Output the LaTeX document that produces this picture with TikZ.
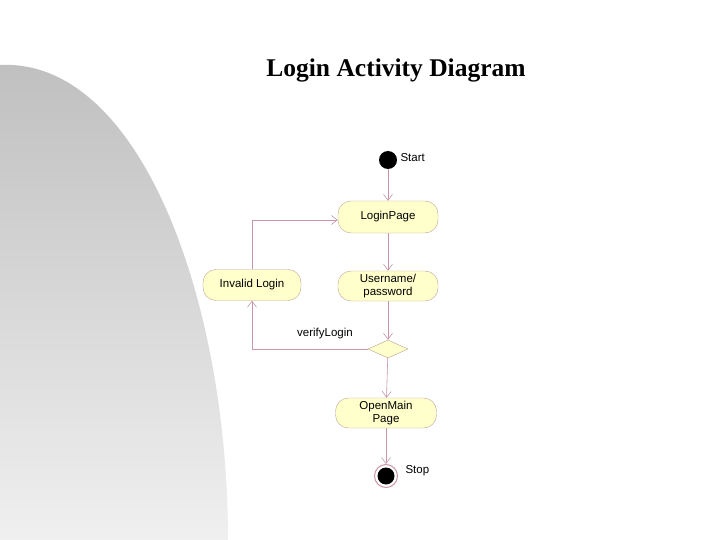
\documentclass[tikz,border=0pt]{standalone}
\usepackage{fontspec}
\setmainfont{Liberation Sans}
\newfontfamily\titlefont{Liberation Serif}
\usetikzlibrary{shapes.geometric,arrows.meta}
\definecolor{lineC}{RGB}{200,150,170}
\definecolor{fillC}{RGB}{255,255,204}
\definecolor{edgeC}{RGB}{190,160,150}
\tikzset{
 act/.style={draw=edgeC,fill=fillC,rounded corners=13pt,minimum width=100pt,minimum height=32pt,align=center,font=\fontsize{11.5}{13}\selectfont,inner sep=2pt},
 flow/.style={draw=lineC,line width=0.6pt,-{Straight Barb[length=6pt,width=9pt]}},
 lbl/.style={font=\fontsize{11.5}{13}\selectfont}
}
\begin{document}
\begin{tikzpicture}[x=1pt,y=-1pt]
\useasboundingbox (0,0) rectangle (720,540);
\fill[white] (0,0) rectangle (720,540);
\shade[top color=gray!50,bottom color=gray!12] (0,65) .. controls (140,58) and (228,300) .. (228,540) -- (0,540) -- cycle;
\node[font=\titlefont\bfseries\fontsize{25.5}{30}\selectfont] (title) at (396,70) {Login Activity Diagram};
\node[circle,fill=black,minimum size=18pt,inner sep=0pt] (start) at (388,160) {};
\node[lbl,anchor=west] (startl) at (397,158) {Start};
\node[act] (login) at (388,217) {LoginPage};
\node[act,minimum height=30pt] (user) at (388,286) {Username/\\password};
\node[act,minimum width=98pt,minimum height=31pt] (inv) at (252,285) {Invalid Login};
\node[diamond,draw=edgeC,fill=fillC,minimum width=40pt,minimum height=18pt,inner sep=0pt,aspect=2.2] (dec) at (388,349) {};
\node[lbl] (verl) at (325,334) {verifyLogin};
\node[act,minimum width=101pt,minimum height=30pt] (main) at (386,413) {OpenMain\\Page};
\node[circle,draw=lineC,line width=1pt,minimum size=23pt,inner sep=0pt] (stopo) at (386,476) {};
\node[circle,fill=black,minimum size=17pt,inner sep=0pt] (stop) at (386,476) {};
\node[lbl,anchor=west] (stopl) at (402,471) {Stop};
\coordinate (c1) at (252,220);
\coordinate (c2) at (252,349);
\draw[flow] (start) -- (login);
\draw[flow] (login) -- (user);
\draw[flow] (user) -- (dec);
\draw[flow] (dec) -- (main);
\draw[flow] (main) -- (stopo);
\draw[flow] (inv.north) -- (c1) -- (login.west |- c1);
\draw[flow] (dec.west) -- (c2) -- (inv.south);
\end{tikzpicture}
\end{document}
